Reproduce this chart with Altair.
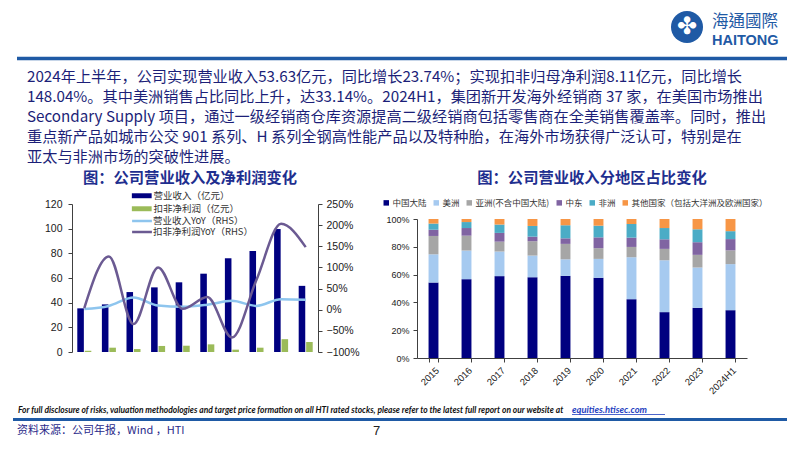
import altair as alt
import pandas as pd

# ---------------- data ----------------
years = ["2015", "2016", "2017", "2018", "2019", "2020", "2021", "2022", "2023", "2024H1"]
revenue = [35.4, 38.6, 48.6, 52.4, 56.5, 63.5, 76.0, 81.9, 99.7, 53.63]      # 营业收入（亿元）
profit = [1.0, 3.5, 2.4, 4.9, 5.1, 6.2, 1.9, 3.5, 10.4, 8.11]               # 扣非净利润（亿元）
revenue_yoy = [1.5, 9.0, 29.0, 10.0, 7.0, 12.0, 21.0, 9.0, 25.0, 23.74]     # %
profit_yoy = [4.0, 126.0, -34.0, 100.0, 2.0, 30.0, -66.0, 71.0, 203.0, 148.04]  # %

regions = ["中国大陆", "美洲", "亚洲(不含中国大陆)", "中东", "非洲", "其他国家（包括大洋洲及欧洲国家）"]
share_china = [54.3, 56.7, 58.9, 58.1, 59.1, 57.7, 42.3, 33.0, 36.1, 34.4]
share_america = [20.3, 20.6, 17.7, 15.6, 11.9, 13.6, 30.2, 37.3, 29.0, 33.14]
share_asia = [13.2, 10.7, 7.1, 10.3, 11.1, 7.7, 7.4, 8.2, 9.1, 9.9]
share_mideast = [4.5, 5.5, 6.3, 3.3, 4.0, 7.8, 6.7, 6.9, 9.1, 8.1]
share_africa = [4.4, 4.3, 6.0, 7.7, 9.4, 8.4, 9.8, 8.1, 9.3, 5.7]
share_other = [3.3, 2.2, 4.0, 5.0, 4.5, 4.8, 3.6, 6.5, 7.4, 8.76]

bar_names = ["营业收入（亿元）", "扣非净利润（亿元）"]
line_names = ["营业收入YoY（RHS）", "扣非净利润YoY（RHS）"]

paragraph = [
    "2024年上半年，公司实现营业收入53.63亿元，同比增长23.74%；实现扣非归母净利润8.11亿元，同比增长",
    "148.04%。其中美洲销售占比同比上升，达33.14%。2024H1，集团新开发海外经销商 37 家，在美国市场推出",
    "Secondary Supply 项目，通过一级经销商仓库资源提高二级经销商包括零售商在全美销售覆盖率。同时，推出",
    "重点新产品如城市公交 901 系列、H 系列全钢高性能产品以及特种胎，在海外市场获得广泛认可，特别是在",
    "亚太与非洲市场的突破性进展。",
]
title_left = "图：公司营业收入及净利润变化"
title_right = "图：公司营业收入分地区占比变化"
disclaimer = "For full disclosure of risks, valuation methodologies and target price formation on all HTI rated stocks, please refer to the latest full report on our website at"
link_text = "equities.htisec.com"
source_text = "资料来源：公司年报，Wind ，HTI"
page_no = "7"

# ---------------- styles ----------------
CJK = "Noto Sans CJK SC"
ARIAL = "Liberation Sans"
NAVY_TXT = "#1c1f78"
BLUE = "#1f5aa5"
axis_common = dict(grid=False, domainColor="#404040", tickColor="#404040",
                   labelColor="#1a1a1a", labelFont=ARIAL, title=None)

# ---------------- left chart ----------------
bar_df = pd.DataFrame({
    "year": years + years,
    "series": [bar_names[0]] * len(years) + [bar_names[1]] * len(years),
    "value": revenue + profit,
})
line_df = pd.DataFrame({
    "year": years + years,
    "series": [line_names[0]] * len(years) + [line_names[1]] * len(years),
    "yoy": [v / 100 for v in revenue_yoy + profit_yoy],
})

xscale_L = alt.Scale(domain=years, range=[64, 310], paddingInner=0.43, paddingOuter=0.215)

bars = alt.Chart(bar_df).mark_bar().encode(
    x=alt.X("year:N", scale=xscale_L, sort=years,
            axis=alt.Axis(orient="bottom", offset=-92, labelAngle=315, labelAlign="right",
                          labelBaseline="top", labelFontSize=10.5, tickBand="extent",
                          tickSize=4, labelPadding=3, **axis_common)),
    xOffset=alt.XOffset("series:N", sort=bar_names,
                        scale=alt.Scale(domain=bar_names, paddingInner=0.12)),
    y=alt.Y("value:Q", scale=alt.Scale(domain=[0, 120], range=[344, 196], nice=False),
            axis=alt.Axis(orient="left", offset=-64, values=[0, 20, 40, 60, 80, 100, 120],
                          tickSize=4, labelPadding=6, labelFontSize=10.5, **axis_common)),
    fill=alt.Fill("series:N", sort=bar_names,
                  scale=alt.Scale(domain=bar_names, range=["#000080", "#9bbb59"]),
                  legend=alt.Legend(orient="none", legendX=129, legendY=183, direction="vertical",
                                    title=None, symbolType="M-2.2,-0.55H2.2V0.55H-2.2Z",
                                    symbolSize=81, symbolStrokeWidth=0, symbolOffset=0,
                                    labelOffset=7, labelFont=CJK, labelFontSize=9.5,
                                    labelColor="#333333", rowPadding=2, padding=0)),
)

lines = alt.Chart(line_df).mark_line(interpolate="monotone", strokeWidth=2.5).encode(
    x=alt.X("year:N", scale=xscale_L, sort=years, bandPosition=0.5, axis=None),
    y=alt.Y("yoy:Q", scale=alt.Scale(domain=[-1, 2.5], range=[344, 196], nice=False, zero=False),
            axis=alt.Axis(orient="right", offset=-476, format=".0%",
                          values=[-1, -0.5, 0, 0.5, 1, 1.5, 2, 2.5],
                          tickSize=4, labelPadding=4, labelFontSize=10.5, **axis_common)),
    stroke=alt.Stroke("series:N", sort=line_names,
                      scale=alt.Scale(domain=line_names, range=["#8ec5ee", "#6b5a92"]),
                      legend=alt.Legend(orient="none", legendX=129, legendY=207, direction="vertical",
                                        title=None, symbolType="M-2.2,0H2.2", symbolSize=81,
                                        symbolStrokeWidth=2.5, symbolOffset=-1, labelOffset=5,
                                        labelFont=CJK, labelFontSize=9.5, labelColor="#333333",
                                        rowPadding=0, padding=0)),
)

left = alt.layer(bars, lines).resolve_scale(y="independent")

# ---------------- right chart ----------------
share_lists = [share_china, share_america, share_asia, share_mideast, share_africa, share_other]
rows = []
for ri, (rname, vals) in enumerate(zip(regions, share_lists)):
    for yr, v in zip(years, vals):
        rows.append({"year": yr, "region": rname, "idx": ri, "value": v / 100})
share_df = pd.DataFrame(rows)

right = alt.Chart(share_df).mark_bar().encode(
    x=alt.X("year:N", sort=years,
            scale=alt.Scale(domain=years, range=[409, 739], paddingInner=0.7, paddingOuter=0.35),
            axis=alt.Axis(orient="bottom", offset=-86, labelAngle=315, labelAlign="right",
                          labelBaseline="top", labelFontSize=9.5, tickBand="extent",
                          tickSize=4, labelPadding=3, **axis_common)),
    y=alt.Y("value:Q", stack="zero",
            scale=alt.Scale(domain=[0, 1], range=[350, 211], nice=False),
            axis=alt.Axis(orient="left", offset=-409, format=".0%",
                          values=[0, 0.2, 0.4, 0.6, 0.8, 1.0],
                          tickSize=4, labelPadding=4, labelFontSize=9, **axis_common)),
    color=alt.Color("region:N", sort=regions,
                    scale=alt.Scale(domain=regions,
                                    range=["#000080", "#a6caf0", "#a6a6a6", "#8064a2", "#4bacc6", "#f79646"]),
                    legend=alt.Legend(orient="none", legendX=374, legendY=190.5, direction="horizontal",
                                      title=None, symbolType="square", symbolSize=30,
                                      symbolStrokeWidth=0, labelFont=CJK, labelFontSize=8.5,
                                      labelColor="#333333", labelOffset=2, columnPadding=5,
                                      labelLimit=0, padding=0)),
    order=alt.Order("idx:Q", sort="ascending"),
)

# ---------------- slide decorations ----------------
one = pd.DataFrame({"t": [""]})


def text_layer(txt, x, y, **kw):
    return alt.Chart(pd.DataFrame({"t": [txt]})).mark_text(**kw).encode(
        text="t:N", x=alt.value(x), y=alt.value(y))


def rule_layer(x1, x2, y, **kw):
    return alt.Chart(one).mark_rule(**kw).encode(x=alt.value(x1), x2=alt.value(x2), y=alt.value(y))


DISC_FONT = "Liberation Sans Narrow, Lato"
decor = [
    rule_layer(9, 779, 50.5, color=BLUE, strokeWidth=3.5),
    alt.Chart(one).mark_point(shape="circle", filled=True, size=1024, color=BLUE, opacity=1).encode(
        x=alt.value(679), y=alt.value(19)),
    text_layer("✤", 679, 19, font="DejaVu Sans", fontSize=24, color="white", align="center", baseline="middle"),
    text_layer("海通國際", 704, 14, font="Noto Sans CJK TC", fontSize=16.5, color=BLUE,
               align="left", baseline="middle"),
    text_layer("HAITONG", 704, 33, font=ARIAL, fontSize=14.5, fontWeight="bold", color=BLUE,
               align="left", baseline="middle"),
    text_layer("\n".join(paragraph), 19, 74, font=CJK, fontSize=15.2, color=NAVY_TXT,
               align="left", baseline="alphabetic", lineBreak="\n", lineHeight=20),
    text_layer(title_left, 182, 170, font=CJK, fontSize=15.3, fontWeight="bold", color="#1f2f8f",
               align="center", baseline="middle"),
    text_layer(title_right, 584, 170, font=CJK, fontSize=15.3, fontWeight="bold", color="#1f2f8f",
               align="center", baseline="middle"),
    text_layer(disclaimer, 10, 402, font=DISC_FONT, fontSize=8.45,
               fontWeight="bold", fontStyle="italic", color="#111111", align="left", baseline="middle"),
    text_layer(link_text, 564, 402, font=DISC_FONT, fontSize=9.4,
               fontWeight="bold", fontStyle="italic", color="#1f3fbf", align="left", baseline="middle"),
    rule_layer(564, 657, 406.5, color="#1f3fbf", strokeWidth=0.8),
    rule_layer(5, 779, 411.5, color=BLUE, strokeWidth=3),
    text_layer(source_text, 9, 423, font=CJK, fontSize=11, color="#2a2a8a",
               align="left", baseline="middle"),
    text_layer(page_no, 365, 423, font=ARIAL, fontSize=13, color="#222222",
               align="left", baseline="middle"),
]

chart = alt.layer(left, right, *decor).resolve_scale(
    x="independent", y="independent"
).properties(
    width=786, height=436, autosize=alt.AutoSizeParams(type="none"), padding=0
).configure_view(stroke=None)

chart.save("out.html", embed_options={"renderer": "svg", "actions": False})
